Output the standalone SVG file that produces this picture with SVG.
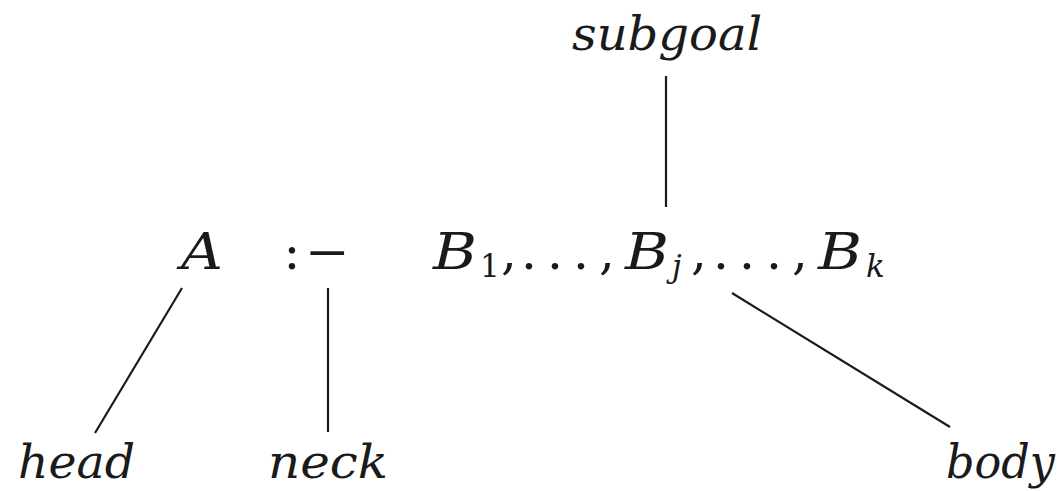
<svg xmlns="http://www.w3.org/2000/svg" width="1061" height="491" viewBox="0 0 1061 491">
<defs>
<style>
text{font-family:'DejaVu Serif','Liberation Serif',serif;font-size:50px;fill:#1a1a1a}
.i{font-style:italic}
.s{font-size:31px}
.d{text-anchor:middle}
.l{font-size:46px;font-style:italic}
.c line{stroke:#1a1a1a;stroke-width:2.2}
</style>
</defs>
<rect width="1061" height="491" fill="#fff"/>
<g id="rule">
<text class="i" x="181" y="269" textLength="42" lengthAdjust="spacingAndGlyphs">A</text>
<text class="d" x="292" y="269">:</text>
<text x="305" y="269" textLength="45" lengthAdjust="spacingAndGlyphs">−</text>
<text class="i" x="433" y="269" textLength="44" lengthAdjust="spacingAndGlyphs">B</text>
<text class="s" x="480" y="277">1</text>
<text class="d" x="509" y="269">,</text>
<text class="d" x="529" y="269">.</text>
<text class="d" x="555" y="269">.</text>
<text class="d" x="581" y="269">.</text>
<text class="d" x="607" y="269">,</text>
<text class="i" x="625" y="269" textLength="44" lengthAdjust="spacingAndGlyphs">B</text>
<text class="s i" x="672" y="277">j</text>
<text class="d" x="699" y="269">,</text>
<text class="d" x="721" y="269">.</text>
<text class="d" x="747" y="269">.</text>
<text class="d" x="774" y="269">.</text>
<text class="d" x="800" y="269">,</text>
<text class="i" x="818" y="269" textLength="44" lengthAdjust="spacingAndGlyphs">B</text>
<text class="s i" x="866" y="277">k</text>
</g>
<g id="subgoal"><text class="l" x="572" y="50" textLength="190" lengthAdjust="spacingAndGlyphs">subgoal</text></g>
<g id="head"><text class="l" x="18" y="478" textLength="117" lengthAdjust="spacingAndGlyphs">head</text></g>
<g id="neck"><text class="l" x="268" y="478" textLength="120" lengthAdjust="spacingAndGlyphs">neck</text></g>
<g id="body"><text class="l" x="946" y="478" textLength="109" lengthAdjust="spacingAndGlyphs">body</text></g>
<g id="connectors" class="c">
<line x1="666" y1="76" x2="666" y2="207"/>
<line x1="182" y1="288" x2="95" y2="433"/>
<line x1="328" y1="288" x2="328" y2="432"/>
<line x1="732" y1="293" x2="950" y2="427"/>
</g>
</svg>
